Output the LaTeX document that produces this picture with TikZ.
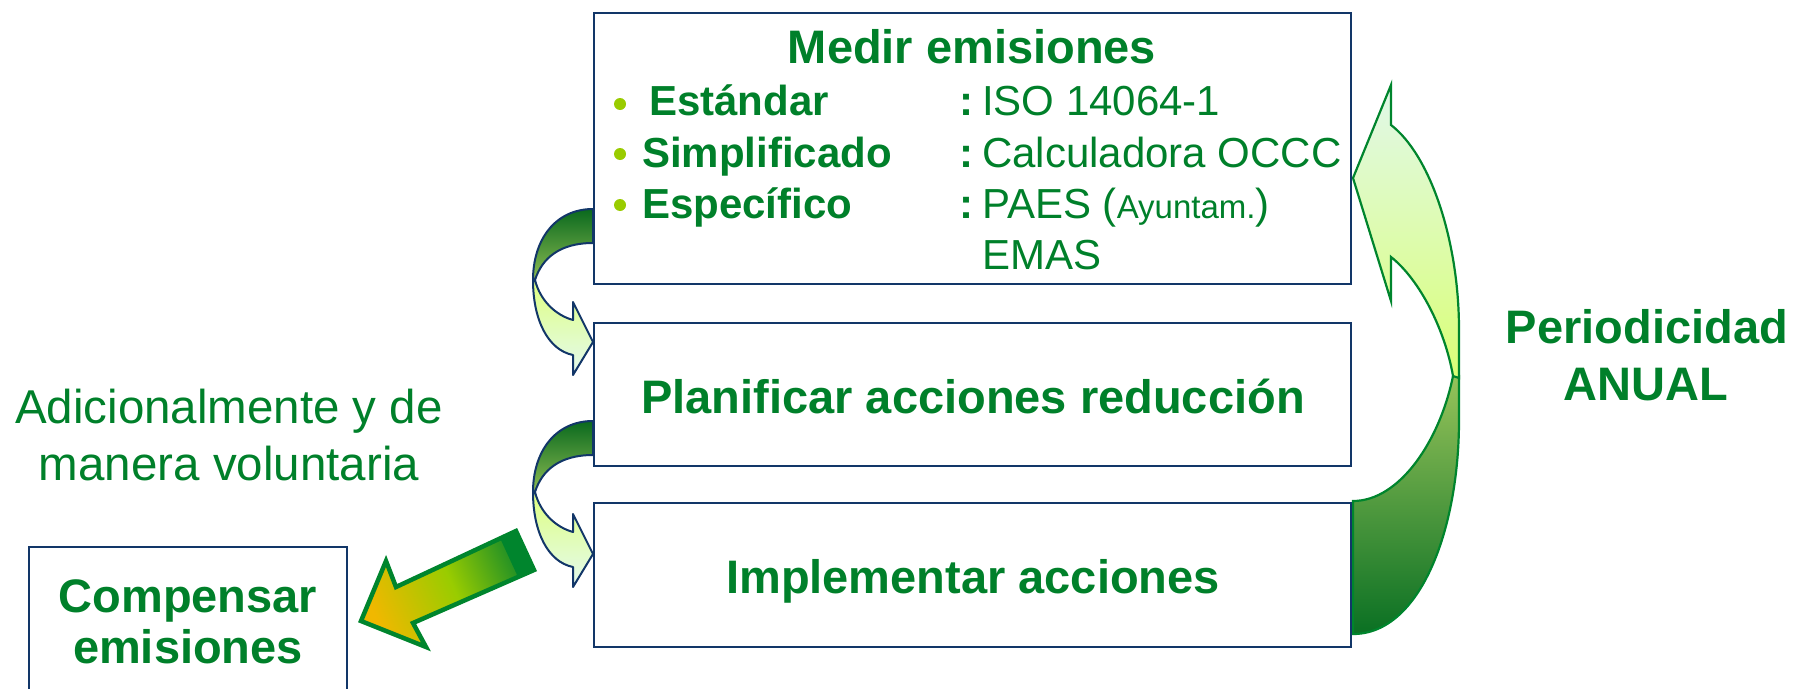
\documentclass[tikz,border=0pt]{standalone}
\usepackage{fontspec}
\setmainfont{Liberation Sans}
\definecolor{txtgreen}{RGB}{0,128,42}
\definecolor{navy}{RGB}{18,54,104}
\definecolor{arrgreen}{RGB}{0,133,45}
\definecolor{lftTop}{RGB}{10,105,30}
\definecolor{lftBot}{RGB}{140,188,82}
\definecolor{limec}{RGB}{222,255,128}
\definecolor{palec}{RGB}{228,250,240}
\definecolor{rLowTop}{RGB}{150,195,90}
\definecolor{rLowBot}{RGB}{10,112,35}
\definecolor{rUpTop}{RGB}{225,248,234}
\definecolor{rUpBot}{RGB}{218,255,118}
\definecolor{bulletc}{RGB}{153,204,0}
\definecolor{gaOr}{RGB}{240,184,0}
\definecolor{gaLime}{RGB}{153,204,0}
\definecolor{gaGreen}{RGB}{25,140,40}
\pgfdeclarehorizontalshading{garrow}{100bp}{color(0bp)=(gaOr); color(25bp)=(gaOr); color(52bp)=(gaLime); color(75bp)=(gaGreen); color(100bp)=(gaGreen)}
\begin{document}
\begin{tikzpicture}[x=1pt,y=-1pt,
  box/.style={draw=navy, line width=2.5pt, fill=white, rectangle, inner sep=0pt},
  ttl/.style={text=txtgreen, font=\fontsize{47}{56}\selectfont\bfseries, inner sep=0pt, anchor=base},
  plain/.style={text=txtgreen, font=\fontsize{47.5}{57}\selectfont, inner sep=0pt, anchor=base},
  itemb/.style={text=txtgreen, font=\fontsize{42}{50}\selectfont\bfseries, inner sep=0pt, anchor=base west},
  itemr/.style={text=txtgreen, font=\fontsize{42}{50}\selectfont, inner sep=0pt, anchor=base west},
  dot/.style={circle, fill=bulletc, minimum size=12pt, inner sep=0pt},
  lband/.style={draw=navy, line width=2pt, line join=round},
  rband/.style={draw=arrgreen, line width=2.2pt, line join=miter}]
\useasboundingbox (0,0) rectangle (1796,688);
\clip (0,0) rectangle (1796,688);

% green arrow to Compensar
\draw[arrgreen, line width=4.5pt, line join=miter, shade, shading=garrow, shading angle=24]
  (361,621) -- (386,561) -- (396,587) -- (516,531) -- (534,570) -- (413,623) -- (426,647) -- cycle;
\fill[arrgreen] (500,538) -- (516,531) -- (534,570) -- (518,577) -- cycle;

% left curved arrows
\foreach \dy in {0,212}{
\begin{scope}[shift={(0,\dy)}]
\draw[lband, top color=lftTop, bottom color=lftBot]
  (593,209) .. controls (555,209) and (533,240) .. (533,280)
  -- (535,280) .. controls (542,258) and (560,243) .. (593,243) -- cycle;
\draw[lband, top color=limec, bottom color=palec]
  (533,280) .. controls (533,320) and (548,350) .. (573,355) -- (573,375) -- (593,342)
  -- (573,302) -- (573,320) .. controls (555,315) and (540,300) .. (535,280) -- cycle;
\end{scope}}

% right curved arrow
\draw[rband, top color=rLowTop, bottom color=rLowBot]
  (1353,501) .. controls (1400,501) and (1440,440) .. (1453,376) -- (1459,376) -- (1459,420)
  .. controls (1459,530) and (1420,634) .. (1353,634) -- cycle;
\draw[rband, top color=rUpTop, bottom color=rUpBot]
  (1391,257) -- (1391,301) -- (1353,178) -- (1391,85) -- (1391,125)
  .. controls (1430,155) and (1459,240) .. (1459,330) -- (1459,378) -- (1453,376)
  .. controls (1445,330) and (1420,280) .. (1391,257) -- cycle;

% boxes
\node[box, minimum width=757pt, minimum height=271pt] (medir) at (972.5,148.5) {};
\node[box, minimum width=757pt, minimum height=143pt] (plan) at (972.5,394.5) {};
\node[box, minimum width=757pt, minimum height=144pt] (impl) at (972.5,575) {};
\node[box, minimum width=318pt, minimum height=153pt] (comp) at (188,623.5) {};

% box 1 texts
\node[ttl] (medirT) at (972,63) {Medir emisiones};
\node[dot] (b1) at (620,104) {};
\node[dot] (b2) at (620,154) {};
\node[dot] (b3) at (620,205) {};
\node[itemb] (est) at (649,115) {Estándar};
\node[itemb] (sim) at (642,167) {Simplificado};
\node[itemb] (esp) at (642,218) {Específico};
\node[itemb] (c1) at (959,115) {:};
\node[itemb] (c2) at (959,167) {:};
\node[itemb] (c3) at (959,218) {:};
\node[itemr] (v1) at (982,115) {ISO 14064-1};
\node[itemr] (v2) at (982,167) {Calculadora OCCC};
\node[itemr] (v3) at (982,218) {PAES (\fontsize{33}{40}\selectfont Ayuntam.\fontsize{42}{50}\selectfont)};
\node[itemr] (v4) at (982,269) {EMAS};

% other texts
\node[ttl] (planT) at (973,413) {Planificar acciones reducción};
\node[ttl] (implT) at (973,593) {Implementar acciones};
\node[ttl] (compT1) at (188,612) {Compensar};
\node[ttl] (compT2) at (188,663) {emisiones};
\node[ttl] (per) at (1647,343) {Periodicidad};
\node[ttl] (anual) at (1646,400) {ANUAL};
\node[plain] (adic1) at (229,423) {Adicionalmente y de};
\node[plain] (adic2) at (229,480) {manera voluntaria};
\end{tikzpicture}
\end{document}
